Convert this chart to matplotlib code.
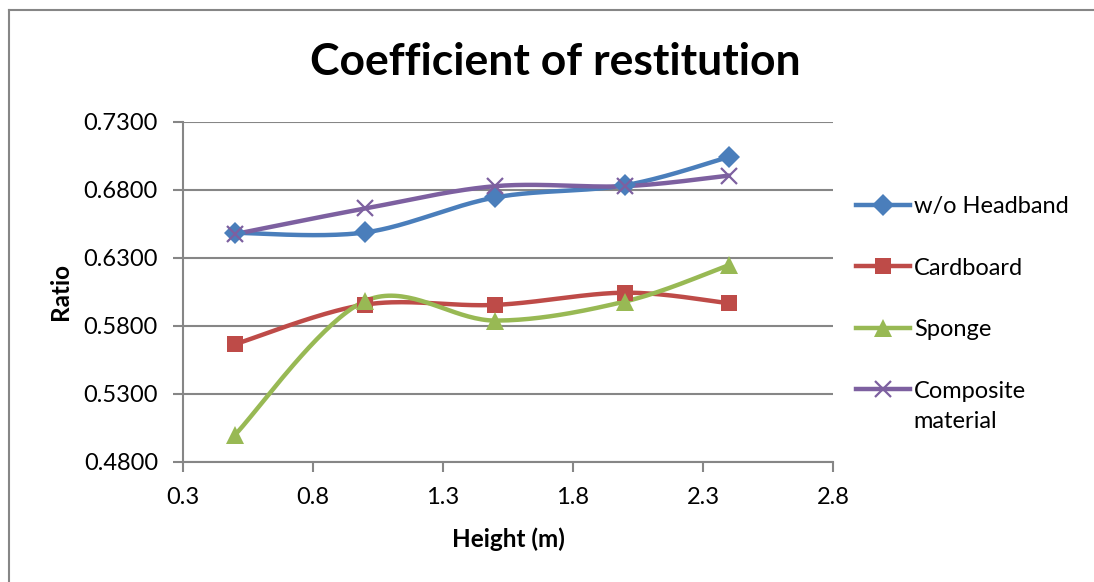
import numpy as np
import matplotlib
matplotlib.use("Agg")
import matplotlib.pyplot as plt
from matplotlib.lines import Line2D
from matplotlib.legend_handler import HandlerLine2D

plt.rcParams['font.family'] = ['Lato', 'DejaVu Sans']

# Drop heights (m) and measured coefficient of restitution per material
heights = [0.5, 1.0, 1.5, 2.0, 2.4]
no_headband = [0.6485, 0.6488, 0.6745, 0.6835, 0.7043]
cardboard = [0.5666, 0.5957, 0.5955, 0.6045, 0.5967]
sponge = [0.5000, 0.5984, 0.5840, 0.5980, 0.6248]
composite = [0.6476, 0.6664, 0.6828, 0.6828, 0.6906]

series_names = ["w/o Headband", "Cardboard", "Sponge", "Composite\nmaterial"]
x_ticks = [0.3, 0.8, 1.3, 1.8, 2.3, 2.8]
y_ticks = [0.48, 0.53, 0.58, 0.63, 0.68, 0.73]


def smooth(xs, ys, n=40):
    """Catmull-Rom spline through the points, drawn as cubic Bezier segments."""
    p = np.column_stack([xs, ys]).astype(float)
    pts = np.vstack([p[0], p, p[-1]])
    out = []
    for i in range(1, len(pts) - 2):
        p0, p1, p2, p3 = pts[i - 1], pts[i], pts[i + 1], pts[i + 2]
        c1 = p1 + (p2 - p0) / 6.0
        c2 = p2 - (p3 - p1) / 6.0
        t = np.linspace(0, 1, n)[:, None]
        seg = ((1 - t) ** 3) * p1 + 3 * ((1 - t) ** 2) * t * c1 \
            + 3 * (1 - t) * t ** 2 * c2 + t ** 3 * p2
        out.append(seg if i == 1 else seg[1:])
    seg = np.vstack(out)
    return seg[:, 0], seg[:, 1]


class TopLineHandler(HandlerLine2D):
    """Legend key raised to sit beside the first line of a two-line label."""

    def __init__(self, lift, **kw):
        super().__init__(**kw)
        self.lift = lift

    def create_artists(self, legend, orig_handle, xdescent, ydescent,
                       width, height, fontsize, trans):
        arts = super().create_artists(legend, orig_handle, xdescent, ydescent,
                                      width, height, fontsize, trans)
        for a in arts:
            y = np.asarray(a.get_ydata(), dtype=float)
            a.set_ydata(y + self.lift)
        return arts


fig = plt.figure(figsize=(10.94, 5.82), dpi=100)
ax = fig.add_axes([183 / 1094, 1 - 462 / 582, 650 / 1094, 340 / 582])

styles = [
    (no_headband, "#4A7EBB", "D", 11.5),
    (cardboard, "#BE4B48", "s", 12),
    (sponge, "#98B954", "^", 13),
    (composite, "#7D60A0", "x", 12),
]

handles = []
for (vals, color, marker, ms), name in zip(styles, series_names):
    sx, sy = smooth(heights, vals)
    ax.plot(sx, sy, color=color, lw=3.2, solid_capstyle="round", zorder=3)
    mew = 1.6 if marker == "x" else 0
    ax.plot(heights, vals, linestyle="none", marker=marker, ms=ms,
            color=color, mec=color, mew=mew, zorder=4)
    handles.append(Line2D([], [], color=color, lw=3.2, marker=marker,
                          ms=ms, mec=color, mew=mew, label=name))

ax.set_xlim(0.3, 2.8)
ax.set_ylim(0.48, 0.73)
ax.set_xticks(x_ticks)
ax.set_xticklabels([f"{v:.1f}" for v in x_ticks])
ax.set_yticks(y_ticks)
ax.set_yticklabels([f"{v:.4f}" for v in y_ticks])
ax.yaxis.grid(True, color="#868686", lw=1.5)
ax.set_axisbelow(True)

for s in ("top", "right"):
    ax.spines[s].set_visible(False)
for s in ("left", "bottom"):
    ax.spines[s].set_color("#868686")
    ax.spines[s].set_linewidth(1.5)
ax.tick_params(axis="both", colors="#868686", width=1.5, length=7,
               labelsize=17, labelcolor="black")
ax.tick_params(axis="y", pad=11)
ax.tick_params(axis="x", pad=11)

ax.set_xlabel("Height (m)", fontsize=17.5, fontweight="bold", labelpad=14)
ax.set_ylabel("Ratio", fontsize=17.5, fontweight="bold", labelpad=8)

fig.text(555 / 1094, 1 - 62 / 582, "Coefficient of restitution",
         ha="center", va="center", fontsize=32, fontweight="bold")

leg = fig.legend(handles=handles, loc="upper left",
                 bbox_to_anchor=(856 / 1094, 1 - 196 / 582),
                 frameon=False, fontsize=17, handlelength=2.3,
                 handletextpad=0.15, labelspacing=1.72,
                 borderpad=0, borderaxespad=0,
                 handler_map={handles[3]: TopLineHandler(lift=13)})
for txt in leg.get_texts():
    txt.set_linespacing(1.55)

# chart frame
fig.add_artist(Line2D([9 / 1094, 9 / 1094], [0, 1 - 10 / 582],
                      color="#868686", lw=1.5, transform=fig.transFigure))
fig.add_artist(Line2D([9 / 1094, 1], [1 - 10 / 582, 1 - 10 / 582],
                      color="#868686", lw=1.5, transform=fig.transFigure))

fig.savefig("out.png", dpi=100)
